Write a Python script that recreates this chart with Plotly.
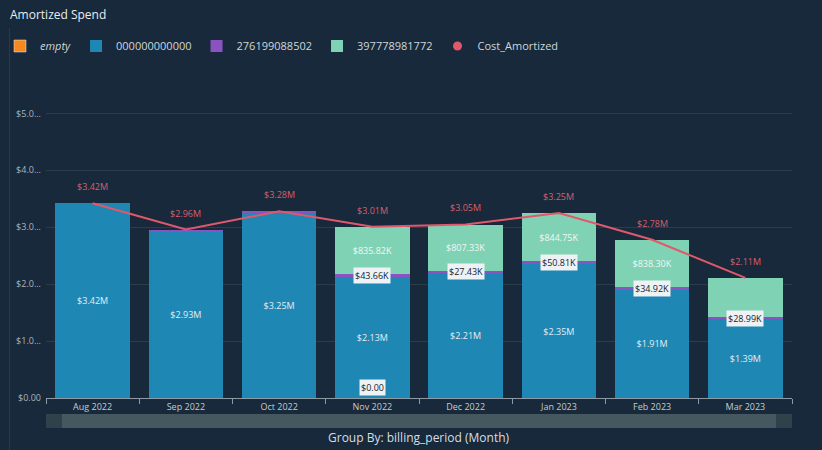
import plotly.graph_objects as go

# ---- data (values in $M) ----
months = ["Aug 2022", "Sep 2022", "Oct 2022", "Nov 2022", "Dec 2022", "Jan 2023", "Feb 2023", "Mar 2023"]
acct_empty = [None, None, None, 0.0, None, None, None, None]
acct_000000000000 = [3.42, 2.93, 3.25, 2.13, 2.21, 2.35, 1.91, 1.39]
acct_276199088502 = [0.0, 0.03, 0.03, 0.04366, 0.02743, 0.05081, 0.03492, 0.02899]
acct_397778981772 = [0.0, 0.0, 0.0, 0.83582, 0.80733, 0.84475, 0.83830, 0.69]
cost_amortized = [3.42, 2.96, 3.28, 3.01, 3.05, 3.25, 2.78, 2.11]
show_276_label = [False, False, False, True, True, True, True, True]
show_397_label = [False, False, False, True, True, True, True, False]
y_tickvals = [0, 1, 2, 3, 4, 5]
y_ticktext = ["$0.00", "$1.0...", "$2.0...", "$3.0...", "$4.0...", "$5.0..."]

BG = "#17293a"
C_EMPTY = "#f5891f"
C_000 = "#1f87b3"
C_276 = "#8b52c2"
C_397 = "#80d2b4"
C_LINE = "#e0586b"
TXT = "#cfd6dc"

fig = go.Figure()

fig.add_trace(go.Bar(x=months, y=acct_empty, name="<i>empty</i>", marker_color=C_EMPTY))
fig.add_trace(go.Bar(
    x=months, y=acct_000000000000, name="000000000000", marker_color=C_000,
    marker_line_width=0,
    text=[f"${v:.2f}M" for v in acct_000000000000], textposition="inside",
    insidetextanchor="middle", textangle=0, textfont=dict(size=9, color="#e6edf2"),
))
fig.add_trace(go.Bar(
    x=months, y=acct_276199088502, name="276199088502", marker_color=C_276,
    marker_line_width=0, textposition="none",
))
fig.add_trace(go.Bar(
    x=months, y=acct_397778981772, name="397778981772", marker_color=C_397,
    marker_line_width=0,
    text=[f"${v*1000:.2f}K" if s else "" for v, s in zip(acct_397778981772, show_397_label)],
    textposition="inside", insidetextanchor="middle", textangle=0,
    textfont=dict(size=9, color="#f2f7f5"),
))
fig.add_trace(go.Scatter(
    x=months, y=cost_amortized, mode="lines", showlegend=False,
    line=dict(color=C_LINE, width=2),
))
fig.add_trace(go.Scatter(
    x=[None], y=[None], mode="markers", name="Cost_Amortized",
    marker=dict(color=C_LINE, size=9, symbol="circle"),
))

annotations = []
for m, v in zip(months, cost_amortized):
    annotations.append(dict(
        x=m, y=v, xref="x", yref="y", yanchor="bottom", yshift=8,
        text=f"${v:.2f}M", showarrow=False, font=dict(size=9, color="#d95f6d"),
    ))
for m, b, p, s in zip(months, acct_000000000000, acct_276199088502, show_276_label):
    if s:
        annotations.append(dict(
            x=m, y=b + p / 2, xref="x", yref="y", text=f"${p*1000:.2f}K",
            showarrow=False, font=dict(size=9, color="#142331"),
            bgcolor="#eef2f4", borderpad=1,
        ))
for m, e in zip(months, acct_empty):
    if e is not None:
        annotations.append(dict(
            x=m, y=e, xref="x", yref="y", yanchor="bottom", yshift=2,
            text=f"${e:.2f}", showarrow=False,
            font=dict(size=9, color="#142331"), bgcolor="#eef2f4", borderpad=1,
        ))
annotations.append(dict(
    x=0.5, y=-0.135, xref="paper", yref="paper", text="Group By: billing_period (Month)",
    showarrow=False, font=dict(size=12, color="#d8dee3"), yanchor="middle",
))

shapes = [
    dict(type="rect", xref="paper", yref="paper", x0=0, x1=1, y0=-0.101, y1=-0.054,
         fillcolor="#2e424c", line_width=0, layer="above"),
    dict(type="rect", xref="paper", yref="paper", x0=0.0214, x1=0.9786, y0=-0.101, y1=-0.054,
         fillcolor="#45575f", line_width=0, layer="above"),
    dict(type="line", xref="paper", yref="paper", x0=-0.049, x1=-0.049, y0=-0.2, y1=1.25,
         line=dict(color="#2a3c4a", width=1)),
]

fig.update_layout(
    width=822, height=450,
    paper_bgcolor=BG, plot_bgcolor=BG,
    barmode="stack", bargap=0.2,
    margin=dict(l=46, r=30, t=101.6, b=52),
    font=dict(family="Open Sans, sans-serif", color=TXT),
    title=dict(text="Amortized Spend", xref="container", yref="container",
               x=10 / 822, y=1 - 15 / 450, xanchor="left", yanchor="middle",
               font=dict(size=12, color="#e8edf0")),
    legend=dict(orientation="h", xref="container", yref="container",
                x=-0.008, y=1 - 46 / 450, xanchor="left", yanchor="middle",
                font=dict(size=11, color=TXT), itemwidth=30,
                traceorder="normal", bgcolor="rgba(0,0,0,0)"),
    annotations=annotations,
    shapes=shapes,
)
fig.update_xaxes(
    showgrid=False, showline=True, linecolor="#8c9ba5", linewidth=1,
    ticks="outside", tickson="boundaries", ticklen=5, tickcolor="#8c9ba5",
    tickfont=dict(size=9, color="#c4ccd2"), fixedrange=True,
)
fig.update_yaxes(
    range=[0, 5.2], tickvals=y_tickvals, ticktext=y_ticktext,
    showgrid=True, gridcolor="#2a3d4b", gridwidth=1, zeroline=False,
    tickfont=dict(size=9, color="#aab4bc"), ticks="", fixedrange=True,
    ticklabelstandoff=4,
)

fig.write_html("out.html")
